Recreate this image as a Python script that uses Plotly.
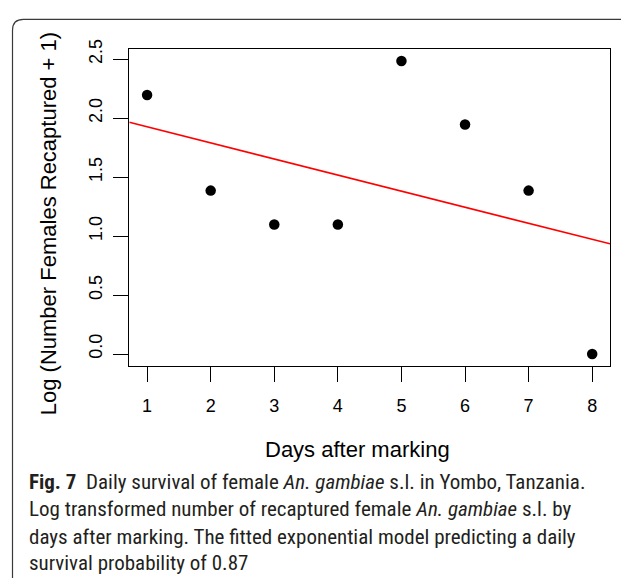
import numpy as np
import plotly.graph_objects as go

# ---- data ----
days = [1, 2, 3, 4, 5, 6, 7, 8]
log_recaptured = [2.197, 1.386, 1.099, 1.099, 2.485, 1.946, 1.386, 0.0]
x_ticks = [1, 2, 3, 4, 5, 6, 7, 8]
y_ticks = [0.0, 0.5, 1.0, 1.5, 2.0, 2.5]
y_ticktext = ["0.0", "0.5", "1.0", "1.5", "2.0", "2.5"]

x_title = "Days after marking"
y_title = "Log (Number Females Recaptured + 1)"
caption_lines = [
    "<b>Fig. 7</b>  Daily survival of female <i>An. gambiae</i> s.l. in Yombo, Tanzania.",
    "Log transformed number of recaptured female <i>An. gambiae</i> s.l. by",
    "days after marking. The fitted exponential model predicting a daily",
    "survival probability of 0.87",
]

# ---- layout helpers ----
W, H = 621, 578
def px(x):
    return x / W
def py(y):
    return 1 - y / H

# R-style 4% axis extension
xmin, xmax = min(days), max(days)
ymin, ymax = min(log_recaptured), max(log_recaptured)
xr = [xmin - 0.04 * (xmax - xmin), xmax + 0.04 * (xmax - xmin)]
yr = [ymin - 0.04 * (ymax - ymin), ymax + 0.04 * (ymax - ymin)]

# linear fit on log scale (exponential model)
slope, intercept = np.polyfit(days, log_recaptured, 1)
fit_x = xr
fit_y = [intercept + slope * v for v in fit_x]

fig = go.Figure()
fig.add_trace(go.Scatter(
    x=days, y=log_recaptured, mode="markers",
    marker=dict(color="black", size=10.5), cliponaxis=False, showlegend=False,
))
fig.add_trace(go.Scatter(
    x=fit_x, y=fit_y, mode="lines",
    line=dict(color="#FF0000", width=1.6), showlegend=False,
))

font_axis = "Liberation Sans, Arial, sans-serif"
fig.update_layout(
    width=W, height=H,
    margin=dict(l=0, r=0, t=0, b=0),
    paper_bgcolor="white", plot_bgcolor="white",
    xaxis=dict(
        domain=[px(129.3), px(610)], range=xr,
        tickvals=x_ticks, ticks="outside", ticklen=15, tickwidth=1.2, tickcolor="black",
        showline=True, mirror=True, linecolor="black", linewidth=1.4,
        showgrid=False, zeroline=False,
        tickfont=dict(family=font_axis, size=18, color="black"),
        ticklabelstandoff=8,
    ),
    yaxis=dict(
        domain=[py(362), py(40)], range=yr,
        tickvals=y_ticks, ticktext=y_ticktext, tickangle=-90,
        ticks="outside", ticklen=15, tickwidth=1.2, tickcolor="black",
        showline=True, mirror=True, linecolor="black", linewidth=1.4,
        showgrid=False, zeroline=False,
        tickfont=dict(family=font_axis, size=18, color="black"),
        ticklabelstandoff=4, ticklabelshift=-5,
    ),
)

annotations = [
    dict(text=x_title, x=px(357.5), y=py(447), xref="paper", yref="paper",
         xanchor="center", yanchor="middle", showarrow=False,
         font=dict(family=font_axis, size=22, color="black")),
    dict(text=y_title, x=px(48), y=py(218), xref="paper", yref="paper",
         xanchor="center", yanchor="middle", showarrow=False, textangle=-90,
         font=dict(family=font_axis, size=22, color="black")),
]
cap_font = "Liberation Sans Narrow, Roboto Condensed, Roboto, sans-serif"
cap_y = [480, 508, 536, 563]
for line, yy in zip(caption_lines, cap_y):
    annotations.append(dict(
        text=line, x=px(27), y=py(yy), xref="paper", yref="paper",
        xanchor="left", yanchor="middle", showarrow=False, align="left",
        font=dict(family=cap_font, size=21, color="#231F20"),
    ))
fig.update_layout(annotations=annotations)

# outer figure frame (rounded top-left corner)
r = 11
fig.add_shape(type="path",
              path=f"M {px(12.5)},{py(578)} L {px(12.5)},{py(9.5 + r)} "
                   f"Q {px(12.5)},{py(9.5)} {px(12.5 + r)},{py(9.5)} L {px(621)},{py(9.5)}",
              xref="paper", yref="paper", line=dict(color="#3a3a3a", width=1.2))

pin_div = (
    "document.documentElement.style.margin='0';"
    "document.body.style.margin='0';document.body.style.overflow='hidden';"
    "var gd=document.getElementById('{plot_id}');"
    "gd.style.position='fixed';gd.style.left='0px';gd.style.top='0px';"
)
fig.write_html("out.html", post_script=pin_div, config={"displayModeBar": False})
